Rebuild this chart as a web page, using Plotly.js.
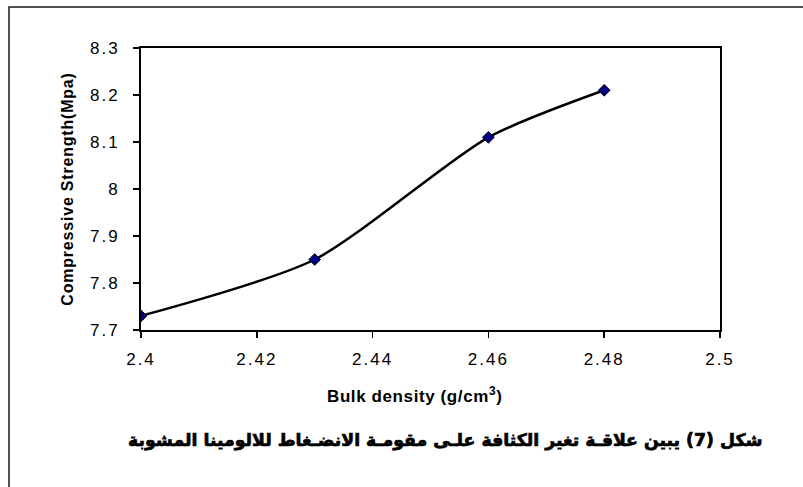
<!DOCTYPE html>
<html>
<head>
<meta charset="utf-8">
<script src="https://cdn.plot.ly/plotly-3.0.1.min.js"></script>
<style>
  html, body { margin: 0; padding: 0; background: #fff; }
  #chart { width: 803px; height: 487px; }
  .xtick text, .ytick text { letter-spacing: 2px; }
  .g-ytitle text { letter-spacing: 0.8px; }
  .annotation.xlab text { letter-spacing: 0.6px; }
  .annotation.cap text { stroke: #000; stroke-width: 0.7px; }
</style>
</head>
<body>
<div id="chart"></div>
<script>
// Bulk density (g/cm3) against compressive strength (MPa)
const bulkDensity = [2.40, 2.43, 2.46, 2.48];
const strength = [7.73, 7.85, 8.11, 8.21];

const xTicks = [2.40, 2.42, 2.44, 2.46, 2.48, 2.50];
const xTickText = ['2.4', '2.42', '2.44', '2.46', '2.48', '2.5'];
const yTicks = [7.7, 7.8, 7.9, 8.0, 8.1, 8.2, 8.3];
const yTickText = ['7.7', '7.8', '7.9', '8', '8.1', '8.2', '8.3'];

const xTitle = 'Bulk density (g/cm<sup>3</sup>)';
const yTitle = 'Compressive Strength(Mpa)';
const caption = 'شكل (7) يبين علاقـة تغير الكثافة علـى مقومـة الانضـغاط للالومينا المشوبة';

const trace = {
  x: bulkDensity,
  y: strength,
  type: 'scatter',
  mode: 'lines+markers',
  line: { color: '#000000', width: 2.5, shape: 'spline', smoothing: 0.7 },
  marker: { symbol: 'diamond', size: 9, color: '#000080', line: { color: '#000000', width: 1 } },
  hoverinfo: 'skip'
};

const axisCommon = {
  showgrid: false,
  zeroline: false,
  showline: true,
  linecolor: '#000000',
  linewidth: 2,
  mirror: true,
  ticks: 'outside',
  ticklen: 6,
  tickwidth: 1.5,
  tickcolor: '#000000',
  tickfont: { family: 'Liberation Sans, Arial, sans-serif', size: 17, color: '#000000' }
};

const layout = {
  width: 803,
  height: 487,
  margin: { l: 141, r: 83, t: 48, b: 157 },
  paper_bgcolor: '#ffffff',
  plot_bgcolor: '#ffffff',
  showlegend: false,
  xaxis: Object.assign({}, axisCommon, {
    range: [2.40, 2.50],
    tickmode: 'array',
    tickvals: xTicks,
    ticktext: xTickText,
    ticklabelstandoff: 7
  }),
  yaxis: Object.assign({}, axisCommon, {
    range: [7.7, 8.3],
    tickmode: 'array',
    tickvals: yTicks,
    ticktext: yTickText,
    ticklabelstandoff: 10,
    title: {
      text: yTitle,
      standoff: 12,
      font: { family: 'Liberation Sans, Arial, sans-serif', size: 16, color: '#000000', weight: 'bold' }
    }
  }),
  annotations: [
    {
      xref: 'paper', yref: 'paper',
      x: (414 - 141) / 579, y: -(395 - 330) / 282,
      xanchor: 'center', yanchor: 'middle',
      text: xTitle,
      showarrow: false,
      font: { family: 'Liberation Sans, Arial, sans-serif', size: 17, color: '#000000', weight: 'bold' }
    },
    {
      xref: 'paper', yref: 'paper',
      x: (445 - 141) / 579, y: -(440 - 330) / 282,
      xanchor: 'center', yanchor: 'middle',
      text: caption,
      showarrow: false,
      font: { family: 'DejaVu Sans, sans-serif', size: 17.3, color: '#000000', weight: 'bold' }
    }
  ],
  shapes: [
    {
      type: 'rect', xref: 'paper', yref: 'paper',
      x0: (9 - 141) / 579, x1: 1.3,
      y0: -0.7, y1: 1 + (48 - 7) / 282,
      line: { color: '#1a1a1a', width: 1.5 },
      fillcolor: 'rgba(0,0,0,0)',
      layer: 'below'
    }
  ]
};

Plotly.newPlot('chart', [trace], layout, { displayModeBar: false, staticPlot: true }).then(function (gd) {
  // text styling hooks for the two annotations
  const anns = gd.querySelectorAll('.annotation');
  if (anns[0]) anns[0].classList.add('xlab');
  if (anns[1]) anns[1].classList.add('cap');
});
</script>
</body>
</html>
